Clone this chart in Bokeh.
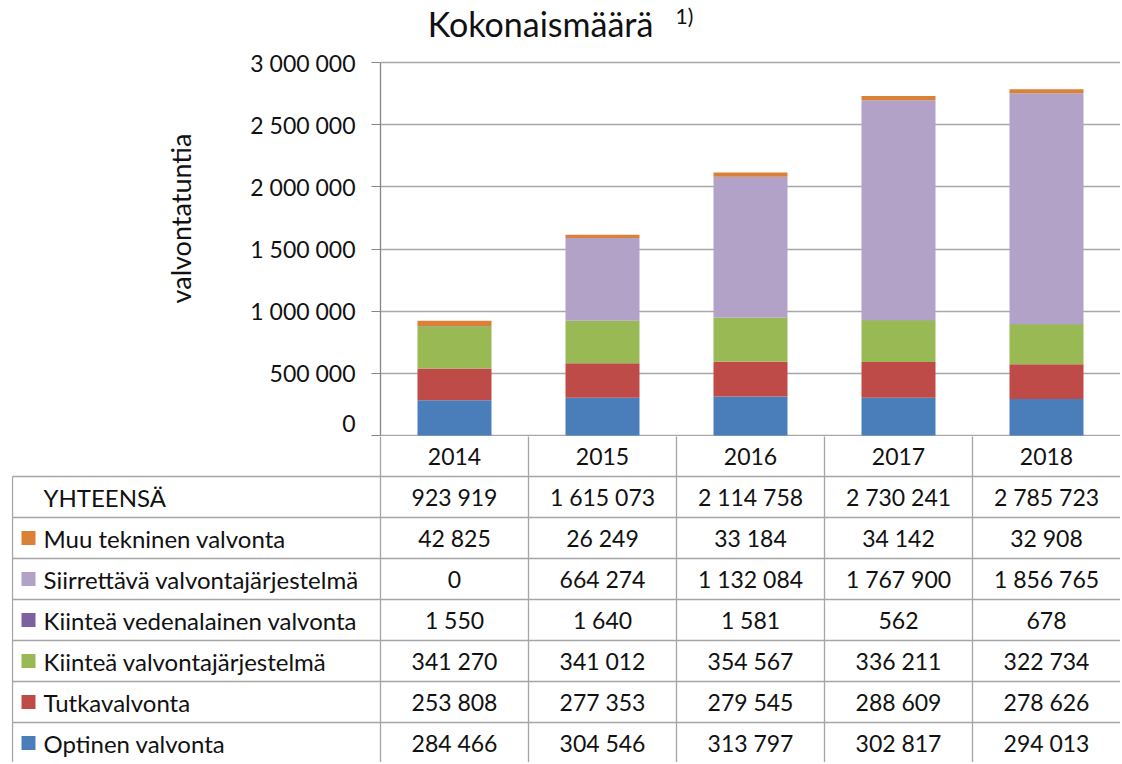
from bokeh.plotting import figure
from bokeh.models import Range1d, FixedTicker, ColumnDataSource
from bokeh.layouts import column
from bokeh.embed import file_html
from bokeh.resources import INLINE
from bokeh.core.properties import value

# ---------------- data ----------------
years = ["2014", "2015", "2016", "2017", "2018"]
optinen = [284466, 304546, 313797, 302817, 294013]
tutka = [253808, 277353, 279545, 288609, 278626]
kiintea = [341270, 341012, 354567, 336211, 322734]
vedenalainen = [1550, 1640, 1581, 562, 678]
siirrettava = [0, 664274, 1132084, 1767900, 1856765]
muu = [42825, 26249, 33184, 34142, 32908]
yhteensa = [923919, 1615073, 2114758, 2730241, 2785723]

series_keys = ["optinen", "tutka", "kiintea", "vedenalainen", "siirrettava", "muu"]
series_labels = ["Optinen valvonta", "Tutkavalvonta", "Kiinteä valvontajärjestelmä",
                 "Kiinteä vedenalainen valvonta", "Siirrettävä valvontajärjestelmä",
                 "Muu tekninen valvonta"]
colors = ["#4A7EBB", "#BE4B48", "#98B954", "#7D60A0", "#B3A2C7", "#DA8137"]
y_ticks = [0, 500000, 1000000, 1500000, 2000000, 2500000, 3000000]
title_text = "Kokonaismäärä"
title_note = "1)"
y_label = "valvontatuntia"
total_label = "YHTEENSÄ"

FONT = "Lato"
TXT = "#111111"
GRID = "#A8A8A8"
TABLE_LINE = "#A5A5A5"


def fmt(v):
    return f"{v:,}".replace(",", " ")


# ---------------- layout constants (pixels) ----------------
W = 1120
FRAME_L = 380                   # left edge of the plot area
CW = (W - FRAME_L) / 5          # width of one year column in px
TOP_H = 436
ZERO_Y = 435                    # pixel row of the value 0
PX_Y = 3000000 / 373            # data units per pixel in the chart
ROW_H = 41
TAB_H = 326
TAB_L = 11
LW = 368 / CW                   # width of the label column, in column units

# ---------------- chart ----------------
p = figure(width=W, height=TOP_H, x_range=Range1d(0, 5),
           y_range=Range1d((ZERO_Y - TOP_H) * PX_Y, ZERO_Y * PX_Y),
           output_backend="svg", toolbar_location=None,
           min_border_left=FRAME_L, min_border_right=0,
           min_border_top=0, min_border_bottom=0,
           x_axis_location=None, outline_line_color=None,
           frame_align=False)
p.xgrid.visible = False
p.ygrid.grid_line_color = GRID
p.ygrid.grid_line_width = 1.3

src = ColumnDataSource(dict(
    x=[i + 0.5 for i in range(len(years))],
    optinen=optinen, tutka=tutka, kiintea=kiintea,
    vedenalainen=vedenalainen, siirrettava=siirrettava, muu=muu))
p.vbar_stack(series_keys, x="x", width=0.5, fill_color=colors,
             line_color=None, source=src)

ya = p.yaxis[0]
ya.ticker = FixedTicker(ticks=y_ticks)
ya.major_label_overrides = {t: fmt(t) for t in y_ticks}
ya.bounds = (y_ticks[0], y_ticks[-1])
ya.axis_line_color = "#868686"
ya.axis_line_width = 1.3
ya.major_tick_line_color = "#868686"
ya.major_tick_out = 9
ya.major_tick_in = 0
ya.minor_tick_line_color = None
ya.major_label_text_font = FONT
ya.major_label_text_font_size = "23px"
ya.major_label_text_color = TXT
ya.major_label_standoff = 16
ya.axis_label = y_label
ya.axis_label_text_font = FONT
ya.axis_label_text_font_size = "27px"
ya.axis_label_text_font_style = "normal"
ya.axis_label_text_color = TXT
ya.axis_label_standoff = 50

# title (sits above the top gridline, inside the drawing area)
p.text(x=[(540 - FRAME_L) / CW], y=[(ZERO_Y - 23) * PX_Y], text=[title_text],
       text_font=value(FONT), text_font_size="34px", text_color=TXT,
       text_align="center", text_baseline="middle")
p.text(x=[(675 - FRAME_L) / CW], y=[(ZERO_Y - 15) * PX_Y], text=[title_note],
       text_font=value(FONT), text_font_size="21px", text_color=TXT,
       text_align="left", text_baseline="middle")

# ---------------- data table ----------------
# value 0 = row line at pixel ZERO_Y; the table starts one pixel below it
t = figure(width=W, height=TAB_H,
           x_range=Range1d(-LW - (FRAME_L - TAB_L - 368) / CW, 5),
           y_range=Range1d(-(TOP_H - ZERO_Y + TAB_H) / ROW_H,
                           -(TOP_H - ZERO_Y) / ROW_H),
           output_backend="svg", toolbar_location=None,
           min_border_left=TAB_L, min_border_right=0,
           min_border_top=0, min_border_bottom=0,
           x_axis_location=None, y_axis_location=None,
           outline_line_color=None, frame_align=False)
t.grid.visible = False

rows = [(total_label, yhteensa, None)] + [
    (series_labels[i], vals, colors[i]) for i, vals in
    reversed(list(enumerate([optinen, tutka, kiintea, vedenalainen, siirrettava, muu])))]

n_rows = len(rows) + 1
# horizontal lines
hx0, hx1, hy = [], [], []
for r in range(1, n_rows + 1):
    hx0.append(-LW)
    hx1.append(5)
    hy.append(-r)
t.segment(x0=hx0, y0=hy, x1=hx1, y1=hy, line_color=TABLE_LINE, line_width=1.3)
# vertical lines
vx = [-LW] + list(range(len(years)))
vy0 = [-n_rows] * len(vx)
vy1 = [-1] + [0] * len(years)
t.segment(x0=vx, y0=vy0, x1=vx, y1=vy1, line_color=TABLE_LINE, line_width=1.3)

# header years
t.text(x=[i + 0.5 for i in range(len(years))], y=[-0.5] * len(years), text=years,
       text_font=value(FONT), text_font_size="23px", text_color=TXT,
       text_align="center", text_baseline="middle")

lab_y, lab_t, key_y, key_c = [], [], [], []
cell_x, cell_y, cell_t = [], [], []
for r, (name, vals, col) in enumerate(rows):
    yc = -(r + 1.5)
    lab_y.append(yc)
    lab_t.append(name)
    if col is not None:
        key_y.append(yc)
        key_c.append(col)
    for i, v in enumerate(vals):
        cell_x.append(i + 0.5)
        cell_y.append(yc)
        cell_t.append(fmt(v))

t.text(x=[-LW] * len(lab_y), y=lab_y, text=lab_t, x_offset=31,
       text_font=value(FONT), text_font_size="24px", text_color=TXT,
       text_align="left", text_baseline="middle")
t.rect(x=[-LW + 16 / CW] * len(key_y), y=key_y, width=14, height=14,
       width_units="screen", height_units="screen",
       fill_color=key_c, line_color=None)
t.text(x=cell_x, y=cell_y, text=cell_t,
       text_font=value(FONT), text_font_size="23px", text_color=TXT,
       text_align="center", text_baseline="middle")

layout = column(p, t, spacing=0)
open("out.html", "w").write(file_html(layout, INLINE))
